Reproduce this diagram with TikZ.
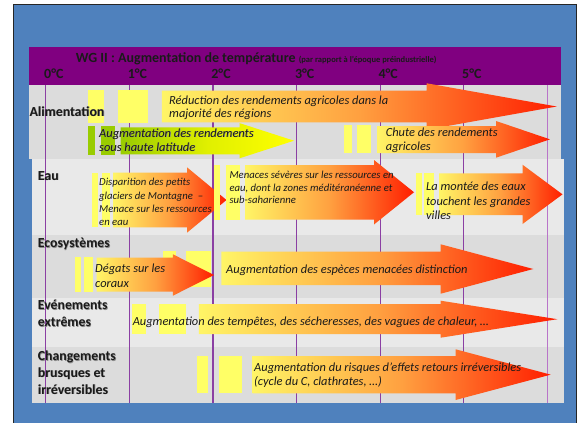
\documentclass[tikz,border=0pt]{standalone}
\usepackage{fontspec}
\setmainfont{Carlito}
\definecolor{frameblue}{HTML}{4F81BD}
\definecolor{frameline}{HTML}{262626}
\definecolor{hdr}{HTML}{800080}
\definecolor{bandA}{HTML}{DCDCDC}
\definecolor{bandB}{HTML}{E9E9E9}
\definecolor{gridc}{HTML}{8B3FA3}
\definecolor{gridl}{HTML}{B974C9}
\definecolor{barc}{HTML}{FFFF66}
\definecolor{gbarc}{HTML}{99CC00}
\definecolor{fireA}{HTML}{FFF566}
\definecolor{fireB}{HTML}{FFA040}
\definecolor{fireC}{HTML}{FF1E00}
\definecolor{leafB}{HTML}{FFFF00}
\definecolor{ink}{HTML}{1A1A1A}
\definecolor{shadowc}{HTML}{8C8C8C}
\newcommand{\shd}[1]{\leavevmode\rlap{\kern0.6pt\raisebox{-0.6pt}{\textcolor{shadowc}{#1}}}#1}
\tikzset{
  fire/.style={left color=fireA, right color=fireC, middle color=fireB},
  leaf/.style={left color=gbarc, right color=leafB, middle color=leafB!70!gbarc},
  ybar/.style={fill=barc},
  gbar/.style={fill=gbarc},
  gridline/.style={gridc, line width=1.2pt},
  lab/.style={font=\fontsize{13.8}{16}\selectfont\bfseries, anchor=base west, inner sep=0pt, text=ink},
  deg/.style={font=\fontsize{14}{16}\selectfont\bfseries, anchor=base west, inner sep=0pt, text=ink},
  txt/.style={font=\fontsize{12.4}{15}\selectfont\itshape, anchor=base west, inner sep=0pt, text=ink},
  stxt/.style={font=\fontsize{10.7}{13}\selectfont\itshape, anchor=base west, inner sep=0pt, text=ink},
}
% #1 style, #2 x body start, #3 body top, #4 body bottom, #5 head base x, #6 head top, #7 head bottom, #8 tip x
\newcommand{\fatarrow}[8]{\shade[#1] (#2,#3) -- (#5,#3) -- (#5,#6) -- (#8,{(#6+#7)/2}) -- (#5,#7) -- (#5,#4) -- (#2,#4) -- cycle;}
\begin{document}
\begin{tikzpicture}[x=1pt,y=-1pt]
\useasboundingbox (0,0) rectangle (579,423);
% frame
\fill[frameblue] (13,4.5) rectangle (576.5,430);
\draw[frameline, line width=1pt] (13,430) -- (13,4.5) -- (576.5,4.5) -- (576.5,430);
% header and bands
\fill[hdr] (29,47) rectangle (561,85);
\fill[bandA] (29,85) rectangle (561,159);
\fill[bandB] (32,159) rectangle (564,235);
\fill[bandA] (32,235) rectangle (564,298);
\fill[bandB] (32,298) rectangle (564,347);
\fill[bandA] (32,347) rectangle (564,403);
% grid lines
\foreach \gx in {45.7,129.3,212.9,296.5,380.1,463.7}{\draw[gridline] (\gx,85) -- (\gx,403);}
\draw[gridline, gridl] (547.8,85) -- (547.8,403);
% title
\node[anchor=base west, inner sep=0pt, text=ink, font=\fontsize{14}{16}\selectfont\bfseries] (title) at (75.7,62.6) {WG II : Augmentation de température {\fontsize{8.5}{10}\selectfont (par rapport à l’époque préindustrielle)}};
\node[deg] (d0) at (44,78.3) {0°C};
\node[deg] (d1) at (127.6,78.3) {1°C};
\node[deg] (d2) at (211.2,78.3) {2°C};
\node[deg] (d3) at (294.8,78.3) {3°C};
\node[deg] (d4) at (378.4,78.3) {4°C};
\node[deg] (d5) at (462,78.3) {5°C};
% ---- Alimentation
\fill[ybar] (88.3,90) rectangle (103.6,123.3);
\fill[ybar] (117.5,90) rectangle (148,123.3);
\fatarrow{fire}{161.8}{90.7}{122.3}{426.7}{83.3}{129.7}{556.7}
\fill[gbar] (88.3,126) rectangle (95,155);
\fill[gbar] (100.7,126) rectangle (115,155);
\fatarrow{leaf}{120.7}{127.3}{154.3}{239.5}{123.1}{158.3}{294}
\fill[ybar] (344,125) rectangle (351.7,153.3);
\fill[ybar] (356.7,125) rectangle (371,153.3);
\fatarrow{fire}{377.3}{126}{153}{496}{121}{157.7}{550}
% ---- Eau
\fill[ybar] (92,172.7) rectangle (97.5,227.3);
\fill[ybar] (101.5,172.7) rectangle (109.8,227.3);
\fatarrow{fire}{113}{172.7}{227.3}{187}{167.3}{232.7}{226.5}
\fill[ybar] (213.6,165) rectangle (220,219.5);
\fill[ybar] (226.2,165) rectangle (239.8,219.5);
\fatarrow{fire}{245}{165}{219.5}{374}{160}{224.5}{414}
\fill[ybar] (415.6,173.3) rectangle (421.5,215);
\fill[ybar] (424,173.3) rectangle (434,215);
\fatarrow{fire}{439}{173.3}{215}{522.5}{164.7}{224}{562.5}
% ---- Ecosystemes
\fill[ybar] (75.2,256.7) rectangle (80.7,291.7);
\fill[ybar] (84.4,256.7) rectangle (93.3,291.7);
\fill[ybar] (163.3,250.7) rectangle (175.5,286.7);
\fill[ybar] (186.2,250.7) rectangle (210.8,286.7);
\fatarrow{fire}{96.7}{257.5}{291.7}{172.9}{254.3}{295.7}{214}
\fatarrow{fire}{221.3}{251.7}{285}{440.7}{244.3}{293.7}{533.3}
% ---- Evenements
\fill[ybar] (131.5,304) rectangle (146.3,334.3);
\fill[ybar] (158.5,304) rectangle (186,334.3);
\fatarrow{fire}{198.9}{304}{334}{440.7}{300.7}{337.7}{557.4}
% ---- Changements
\fill[ybar] (197,356) rectangle (208,393.3);
\fill[ybar] (218.5,356) rectangle (241.5,393.3);
\fatarrow{fire}{252.6}{356}{393.3}{455.6}{349.3}{400}{550.7}
% ---- row labels
\node[lab] (lAli) at (29.3,116) {\shd{Alimentation}};
\node[lab] (lEau) at (37.7,180) {\shd{Eau}};
\node[lab] (lEco) at (37.7,247.5) {\shd{Ecosystèmes}};
\node[lab] (lEv1) at (37.7,309.8) {\shd{Evénements}};
\node[lab] (lEv2) at (37.7,326.5) {\shd{extrêmes}};
\node[lab] (lCh1) at (37.7,360.7) {\shd{Changements}};
\node[lab] (lCh2) at (37.7,377.3) {\shd{brusques et}};
\node[lab] (lCh3) at (37.7,394) {\shd{irréversibles}};
% ---- arrow texts
\node[txt] (a1a) at (169,104) {Réduction des rendements agricoles dans la};
\node[txt] (a1b) at (169,117.3) {majorité des régions};
\node[txt] (a2a) at (99,137.3) {\shd{Augmentation des rendements}};
\node[txt] (a2b) at (99,151) {\shd{sous haute latitude}};
\node[txt] (a3a) at (385.7,136.7) {Chute des rendements};
\node[txt] (a3b) at (385.7,150) {agricoles};
\node[stxt] (e1a) at (99,185.7) {Disparition des petits};
\node[stxt] (e1b) at (99,199) {glaciers de Montagne\ \ –};
\node[stxt] (e1c) at (99,212.3) {Menace sur les ressources};
\node[stxt] (e1d) at (99,225.7) {en eau};
\node[stxt] (e2a) at (229.3,178.3) {Menaces sévères sur les ressources en};
\node[stxt] (e2b) at (229.3,191) {eau, dont la zones méditéranéenne et};
\node[stxt] (e2c) at (229.3,203.3) {sub-saharienne};
\node[txt] (e3a) at (426,190.3) {La montée des eaux};
\node[txt] (e3b) at (426,205.2) {touchent les grandes};
\node[txt] (e3c) at (426,219.8) {villes};
\node[txt] (c1a) at (95,272.3) {Dégats sur les};
\node[txt] (c1b) at (95,287.3) {coraux};
\node[txt] (c2) at (226,273.3) {Augmentation des espèces menacées distinction};
\node[txt] (v1) at (132.6,325) {Augmentation des tempêtes, des sécheresses, des vagues de chaleur, …};
\node[txt] (h1) at (254,371) {Augmentation du risques d’effets retours irréversibles};
\node[txt] (h2) at (254,385.5) {(cycle du C, clathrates, …)};
\end{tikzpicture}
\end{document}
